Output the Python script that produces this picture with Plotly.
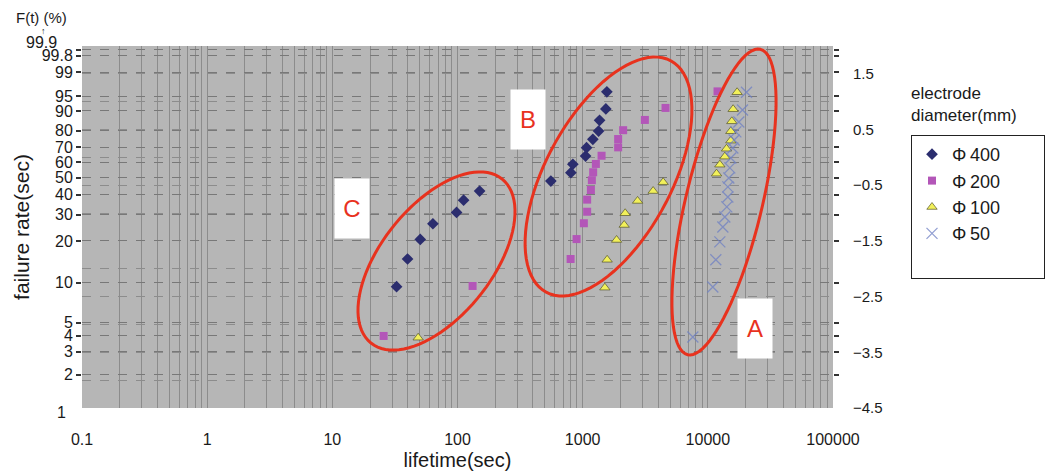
import math
import plotly.graph_objects as go

# ---------------- data ----------------
phi400_t = [32.6, 39.9, 50.4, 63.6, 98.3, 111.9, 150.2, 557, 805, 835, 1055, 1074, 1206, 1340, 1365, 1532, 1561]
phi400_F = [9.35, 14.9, 20.5, 26.2, 31.1, 37.1, 42.1, 48.0, 53.2, 58.7, 64.1, 69.6, 74.9, 79.9, 85.7, 90.8, 96.1]

phi200_t = [25.7, 132, 801, 894, 1022, 1086, 1086, 1163, 1184, 1213, 1275, 1416, 1921, 1921, 2106, 3140, 4592, 11950]
phi200_F = [3.97, 9.46, 14.9, 20.6, 26.4, 31.4, 37.4, 42.7, 48.5, 53.5, 58.9, 64.3, 69.8, 75.1, 80.4, 85.9, 91.2, 96.2]

phi100_t = [48.5, 1504, 1569, 1866, 2146, 2186, 2745, 3656, 4395, 11733, 12468, 13671, 14106, 15266, 15266, 15547, 15924, 17140]
phi100_F = [3.85, 9.19, 14.7, 20.3, 25.7, 30.7, 36.7, 42.1, 47.3, 52.6, 58.4, 63.7, 68.9, 74.1, 79.8, 85.2, 90.7, 96.0]

phi50_t = [7590, 10960, 11580, 12470, 13180, 13670, 14180, 14450, 14450, 14720, 14990, 15270, 15840, 16220, 16740, 17690, 18920, 20370]
phi50_F = [3.9, 9.3, 14.7, 19.7, 24.9, 29.0, 33.7, 38.8, 44.5, 49.9, 56.3, 62.8, 69.4, 74.5, 79.4, 84.9, 90.4, 96.0]

series_names = ["Φ\u2009400", "Φ\u2009200", "Φ\u2009100", "Φ\u200950"]

F_ticks = [2, 3, 4, 5, 10, 20, 30, 40, 50, 60, 70, 80, 90, 95, 99, 99.8, 99.9]
F_ticktext = ["2", "3", "4", "5", "10", "20", "30", "40", "50", "60", "70", "80", "90", "95", "99", "99.8", ""]
x_ticks = [0.1, 1, 10, 100, 1000, 10000, 100000]
x_ticktext = ["0.1", "1", "10", "100", "1000", "10000", "100000"]
right_ticks = [-4.5, -3.5, -2.5, -1.5, -0.5, 0.5, 1.5]
right_ticktext = ["\u22124.5", "\u22123.5", "\u22122.5", "\u22121.5", "\u22120.5", "0.5", "1.5"]
y_range = [-4.5, 2.0]


def weib(F):
    return math.log(-math.log(1 - F / 100.0))


# ---------------- layout geometry ----------------
W, H = 1056, 474
L, R, T, B = 82, 223, 46, 66
PW, PH = W - L - R, H - T - B


def to_paper(px, py):
    return (px - L) / PW, 1 - (py - T) / PH


def ellipse_path(cx, cy, a, b, deg, n=90):
    phi = math.radians(deg)
    pts = []
    for k in range(n + 1):
        t = 2 * math.pi * k / n
        ex, ey = a * math.cos(t), b * math.sin(t)
        x = cx + ex * math.cos(phi) - ey * math.sin(phi)
        y = cy + ex * math.sin(phi) + ey * math.cos(phi)
        xp, yp = to_paper(x, y)
        pts.append(f"{xp:.5f},{yp:.5f}")
    return "M " + " L ".join(pts) + " Z"


fig = go.Figure()

pad = "\u2800" * 3  # invisible, non-whitespace glyphs to widen the legend box

fig.add_trace(go.Scatter(
    x=phi400_t, y=[weib(f) for f in phi400_F], mode="markers", name=series_names[0] + pad,
    marker=dict(symbol="diamond", size=9, color="#2b2d6e")))
fig.add_trace(go.Scatter(
    x=phi200_t, y=[weib(f) for f in phi200_F], mode="markers", name=series_names[1],
    marker=dict(symbol="square", size=8, color="#b356b8")))
fig.add_trace(go.Scatter(
    x=phi100_t, y=[weib(f) for f in phi100_F], mode="markers", name=series_names[2],
    marker=dict(symbol="triangle-up", size=9, color="#f2f05a",
                line=dict(color="#55552a", width=0.7))))
fig.add_trace(go.Scatter(
    x=phi50_t, y=[weib(f) for f in phi50_F], mode="markers", name=series_names[3],
    marker=dict(symbol="x-thin", size=11, color="#6f80c4",
                line=dict(color="#6f80c4", width=1.3)), opacity=0.75))
# empty legend row: gives the legend box the reference's bottom padding
fig.add_trace(go.Scatter(x=[None], y=[None], mode="markers", name="\u00a0",
                         marker=dict(color="rgba(0,0,0,0)", size=1,
                                     line=dict(width=0, color="rgba(0,0,0,0)")),
                         hoverinfo="skip"))
# invisible trace to activate the right-hand axis
fig.add_trace(go.Scatter(x=[None], y=[None], yaxis="y2", showlegend=False, hoverinfo="skip"))

grid_col = "#8c8c8c"

fig.update_layout(
    width=W, height=H,
    margin=dict(l=L, r=R, t=T, b=B, autoexpand=False),
    paper_bgcolor="white",
    plot_bgcolor="#b6b6b6",
    font=dict(family="Liberation Sans, Arial, sans-serif", color="#1a1a1a"),
    xaxis=dict(
        type="log", range=[-1, 5], automargin=False,
        tickvals=x_ticks, ticktext=x_ticktext,
        tickfont=dict(size=16),
        ticks="outside", ticklen=17, tickcolor="rgba(0,0,0,0)",
        showgrid=True, gridcolor=grid_col, gridwidth=1,
        minor=dict(dtick="D1", showgrid=True, gridcolor=grid_col, gridwidth=1, ticks=""),
        zeroline=False, showline=False,
        title=dict(text="lifetime(sec)", font=dict(size=20), standoff=5),
    ),
    yaxis=dict(
        range=y_range, automargin=False,
        tickvals=[weib(f) for f in F_ticks], ticktext=F_ticktext,
        tickfont=dict(size=16),
        ticks="outside", ticklen=5, tickwidth=2, tickcolor="#333333",
        showline=True, linecolor="rgba(0,0,0,0)", mirror="ticks",
        showgrid=True, gridcolor="#787878", gridwidth=1.3, griddash="dash",
        minor=dict(tickvals=[y_range[0] + 0.5 * k for k in range(1, 13)],
                   showgrid=True, gridcolor=grid_col, gridwidth=1, ticks=""),
        zeroline=False,
        title=dict(text="failure rate(sec)", font=dict(size=21), standoff=6),
    ),
    yaxis2=dict(
        overlaying="y", side="right", range=y_range, automargin=False,
        tickvals=right_ticks, ticktext=right_ticktext,
        tickfont=dict(size=15),
        ticks="outside", ticklen=16, tickcolor="rgba(0,0,0,0)",
        showgrid=False, zeroline=False, showline=False,
    ),
    legend=dict(
        x=(911 - L) / PW, y=1 - (135 - T) / PH, xanchor="left", yanchor="top",
        bgcolor="white", bordercolor="#222222", borderwidth=1,
        font=dict(size=18), itemwidth=30, tracegroupgap=0,
    ),
    showlegend=True,
)

shapes = []
for (cx, cy, a, b, deg) in [(436.5, 261, 105, 55.4, -51.4),
                             (608.5, 176.5, 131.4, 63, -61.7),
                             (724, 202, 157, 38.3, -76.6)]:
    shapes.append(dict(type="path", path=ellipse_path(cx, cy, a, b, deg),
                       xref="paper", yref="paper",
                       line=dict(color="#e8321e", width=3)))
fig.update_layout(shapes=shapes)

annots = []
for (txt, cx, cy) in [("C", 352, 208.5), ("B", 527.5, 119), ("A", 754.5, 328.5)]:
    xp, yp = to_paper(cx, cy)
    annots.append(dict(text=txt, x=xp, y=yp, xref="paper", yref="paper",
                       xanchor="center", yanchor="middle", showarrow=False,
                       width=34, height=59, bgcolor="white", borderpad=0,
                       font=dict(size=24, color="#e8321e")))

# extra left-axis labels
for (txt, px, py, size) in [("99.9", 59, 42, 16), ("1", 68, 412, 16)]:
    xp, yp = to_paper(px, py)
    annots.append(dict(text=txt, x=xp, y=yp, xref="paper", yref="paper",
                       xanchor="right", yanchor="middle", showarrow=False,
                       font=dict(size=size)))
xp, yp = to_paper(43, 31)
annots.append(dict(text="↑", x=xp, y=yp, xref="paper", yref="paper",
                   xanchor="center", yanchor="middle", showarrow=False,
                   font=dict(size=9)))
xp, yp = to_paper(14, 17)
annots.append(dict(text="F(t) (%)", x=xp, y=yp, xref="paper", yref="paper",
                   xanchor="left", yanchor="middle", showarrow=False,
                   font=dict(size=15)))
xp, yp = to_paper(909, 104)
annots.append(dict(text="electrode<br>diameter(mm)", x=xp, y=yp, xref="paper", yref="paper",
                   xanchor="left", yanchor="middle", showarrow=False, align="left",
                   font=dict(size=17)))
fig.update_layout(annotations=annots)

fig.write_html("out.html", config={"displayModeBar": False},
               post_script="document.body.style.margin='0px';document.body.style.overflow='hidden';")
